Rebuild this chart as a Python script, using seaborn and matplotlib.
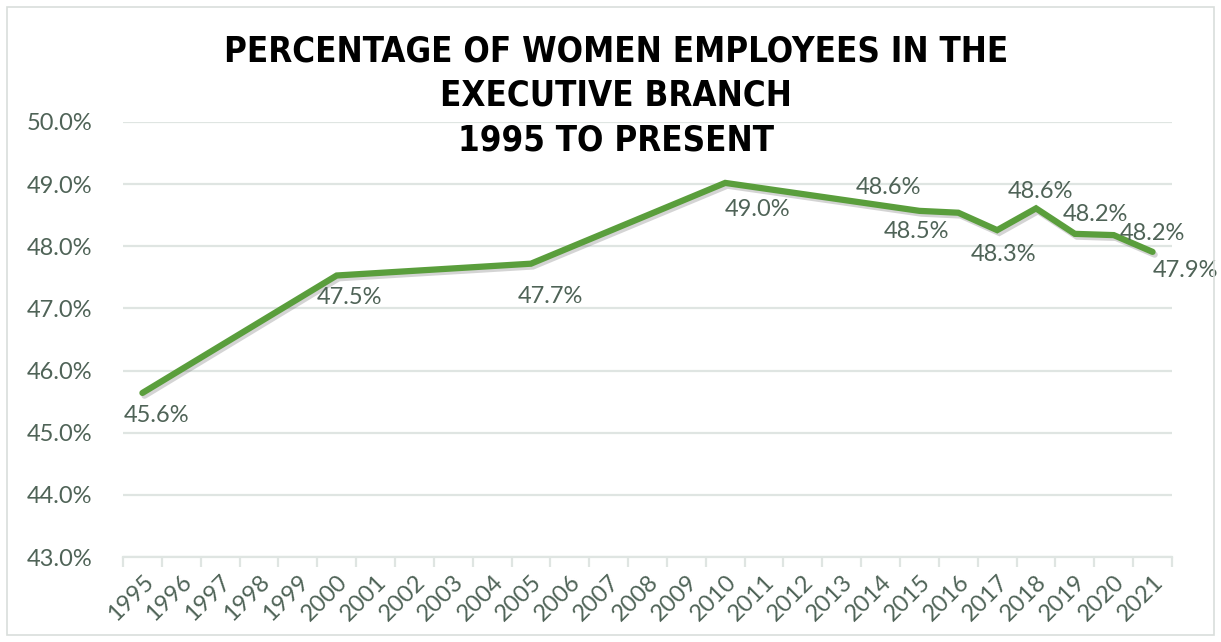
import matplotlib
matplotlib.use("Agg")
import matplotlib.pyplot as plt
import matplotlib.patheffects as pe
from matplotlib.patches import Rectangle
from matplotlib.ticker import FixedLocator, FuncFormatter
import pandas as pd
import seaborn as sns

# data
years = [1995, 2000, 2005, 2010, 2015, 2016, 2017, 2018, 2019, 2020, 2021]
pct = [45.64, 47.53, 47.72, 49.02, 48.57, 48.54, 48.26, 48.61, 48.20, 48.18, 47.91]
tick_years = list(range(1995, 2022))
title = "PERCENTAGE OF WOMEN EMPLOYEES IN THE\nEXECUTIVE BRANCH\n1995 TO PRESENT"

# label offsets in pixels (hand placed in the original)
label_offsets = [(14, -23), (13, -22), (19, -33), (32, -27), (-31, 23), (-42, -19),
                 (6, -24), (4, 17), (21, 19), (39, 2), (33, -19)]

df = pd.DataFrame({"year": years, "pct": pct})

sns.set_theme(style="white")
plt.rcParams["font.family"] = ["Lato", "DejaVu Sans"]

text_col = "#4f6357"
grid_col = "#dfe5e2"
line_col = "#5a9e3c"

fig = plt.figure(figsize=(12.21, 6.42), dpi=100)
ax = fig.add_axes([123 / 1221, 1 - 557 / 642, (1172 - 123) / 1221, (557 - 122) / 642])

sns.lineplot(data=df, x="year", y="pct", ax=ax, color=line_col, linewidth=4.5,
             solid_capstyle="round", solid_joinstyle="miter",
             path_effects=[pe.SimpleLineShadow(offset=(1.5, -2), alpha=0.25, shadow_color="#555555"),
                           pe.Normal()])

for x, y, (dx, dy) in zip(years, pct, label_offsets):
    ax.annotate(f"{y:.1f}%", (x, y), xytext=(dx, dy), textcoords="offset pixels",
                ha="center", va="center", fontsize=17, color=text_col)

ax.set_xlim(1994.5, 2021.5)
ax.set_ylim(43, 50)
ax.set_yticks([43, 44, 45, 46, 47, 48, 49, 50])
ax.yaxis.set_major_formatter(FuncFormatter(lambda v, p: f"{v:.1f}%"))
ax.yaxis.grid(True, color=grid_col, linewidth=1.6)
ax.set_axisbelow(True)

ax.set_xticks(tick_years)
ax.set_xticklabels([str(y) for y in tick_years], rotation=45, ha="right",
                   rotation_mode="anchor")
ax.xaxis.set_minor_locator(FixedLocator([y - 0.5 for y in tick_years] + [2021.5]))
ax.tick_params(axis="x", which="major", length=0, pad=10, labelsize=17, labelcolor=text_col)
ax.tick_params(axis="x", which="minor", length=7, width=1.6, color=grid_col, direction="out",
               bottom=True)
ax.tick_params(axis="y", length=0, pad=22, labelsize=17, labelcolor=text_col)

for s in ["top", "right", "left"]:
    ax.spines[s].set_visible(False)
ax.spines["bottom"].set_color(grid_col)
ax.spines["bottom"].set_linewidth(1.6)

ax.set_xlabel("")
ax.set_ylabel("")

fig.text(616 / 1221, 1 - 34 / 642, title, ha="center", va="top", fontsize=25,
         fontweight="bold", fontstretch="condensed", color="black", linespacing=1.4,
         family=["DejaVu Sans"])

fig.patches.append(Rectangle((7 / 1221, 7 / 642), 1 - 14 / 1221, 1 - 14 / 642,
                             transform=fig.transFigure, fill=False,
                             edgecolor="#d9dedb", linewidth=1.2))

fig.savefig("out.png", dpi=100)
